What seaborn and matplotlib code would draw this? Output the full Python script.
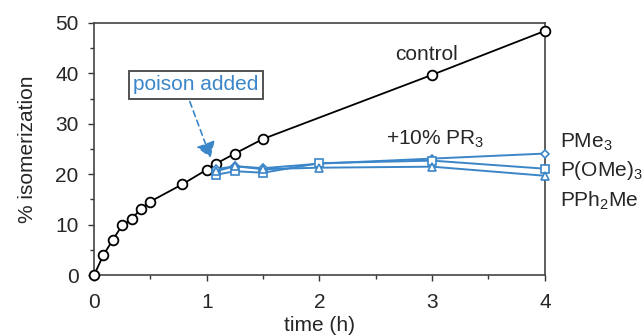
import matplotlib
matplotlib.use("Agg")
import matplotlib.pyplot as plt
from matplotlib.ticker import MultipleLocator
import seaborn as sns
import pandas as pd

# control series
control_t = [0, 0.083, 0.167, 0.25, 0.333, 0.417, 0.5, 0.783, 1.0, 1.083, 1.25, 1.5, 3.0, 4.0]
control_y = [0, 4.0, 7.0, 9.9, 11.1, 13.2, 14.6, 18.0, 20.9, 22.1, 24.1, 27.0, 39.7, 48.4]

# poisoned series
poison_t = [1.083, 1.25, 1.5, 2.0, 3.0, 4.0]
pme3_y = [21.0, 21.6, 21.2, 22.1, 23.1, 24.1]
pome3_y = [19.9, 20.6, 20.3, 22.2, 22.7, 21.1]
pph2me_y = [20.6, 21.6, 21.0, 21.3, 21.5, 19.7]

series_names = ["PMe$_3$", "P(OMe)$_3$", "PPh$_2$Me"]
series_markers = ["D", "s", "^"]
series_values = [pme3_y, pome3_y, pph2me_y]

x_ticks = [0, 1, 2, 3, 4]
y_ticks = [0, 10, 20, 30, 40, 50]

sns.set_theme(style="white")
plt.rcParams["font.family"] = ["Liberation Sans", "DejaVu Sans"]
plt.rcParams["mathtext.fontset"] = "custom"
plt.rcParams["mathtext.rm"] = "Liberation Sans"
plt.rcParams["mathtext.it"] = "Liberation Sans"

BLUE = "#3a86c8"
FS = 15

fig = plt.figure(figsize=(6.44, 3.36), dpi=100)
ax = fig.add_axes([0.146, 0.181, 0.700, 0.751])

dfc = pd.DataFrame({"t": control_t, "y": control_y})
sns.lineplot(data=dfc, x="t", y="y", ax=ax, color="black", lw=1.3,
             marker="o", markersize=7, markerfacecolor="white",
             markeredgecolor="black", markeredgewidth=1.3, zorder=3)

for name, mk, vals in zip(series_names, series_markers, series_values):
    d = pd.DataFrame({"t": poison_t, "y": vals})
    sns.lineplot(data=d, x="t", y="y", ax=ax, color=BLUE, lw=1.4,
                 marker=mk, markersize=5.5 if mk != "D" else 4.5,
                 markerfacecolor="white", markeredgecolor=BLUE,
                 markeredgewidth=1.2, zorder=4)

ax.set_xlim(0, 4)
ax.set_ylim(0, 50)
ax.set_xticks(x_ticks)
ax.set_yticks(y_ticks)
ax.xaxis.set_minor_locator(MultipleLocator(0.5))
ax.yaxis.set_minor_locator(MultipleLocator(5))
ax.tick_params(axis="both", which="major", direction="out", length=4, width=1,
               labelsize=FS, color="#333333",
               bottom=True, left=True, top=False, right=False)
ax.tick_params(axis="x", which="major", pad=8.5)
ax.tick_params(axis="y", which="major", pad=7)
ax.tick_params(axis="both", which="minor", direction="out", length=3, width=1,
               color="#333333", bottom=True, left=True, top=False, right=False)
for s in ax.spines.values():
    s.set_color("#444444")
    s.set_linewidth(1.2)
ax.set_xlabel("time (h)", fontsize=FS, labelpad=3)
ax.set_ylabel("% isomerization", fontsize=FS, labelpad=13)
for ln in ax.lines:
    ln.set_clip_on(False)

ax.text(2.95, 43.8, "control", fontsize=FS, ha="center", va="center")
ax.text(3.03, 26.9, "+10% PR$_3$", fontsize=FS, ha="center", va="center")

for name, ypos in zip(series_names, [26.4, 20.8, 14.7]):
    ax.text(1.033, ypos, name, transform=ax.get_yaxis_transform(),
            fontsize=FS, ha="left", va="center")

ax.annotate("", xy=(1.035, 23.3), xytext=(0.85, 34.4),
            arrowprops=dict(arrowstyle="-|>,head_length=0.75,head_width=0.5",
                            color=BLUE, lw=1.2, ls=(0, (3.5, 2.5)),
                            shrinkA=0, shrinkB=0))
ax.text(0.905, 37.7, "poison added", fontsize=FS, color=BLUE, ha="center",
        va="center",
        bbox=dict(boxstyle="square,pad=0.22", fc="white", ec="#444444", lw=1.3))

fig.savefig("out.png", dpi=100)
